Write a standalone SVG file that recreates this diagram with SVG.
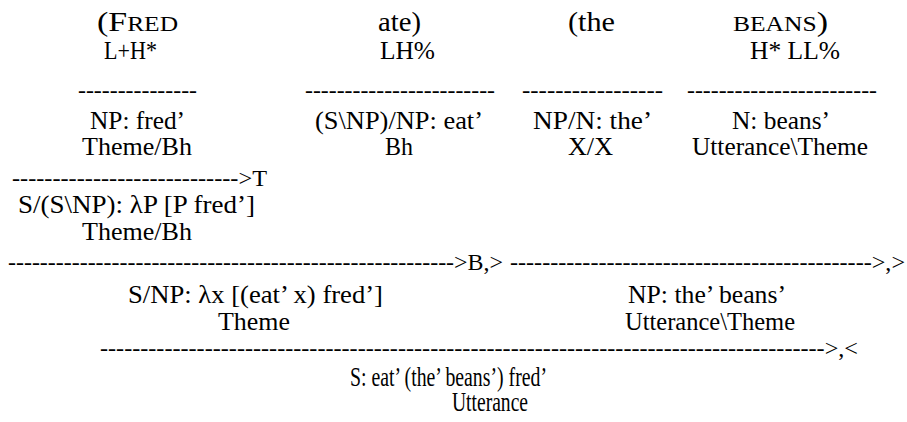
<svg xmlns="http://www.w3.org/2000/svg" width="907" height="422" viewBox="0 0 907 422">
<style>
text{font-family:"Liberation Serif","Times New Roman",serif;fill:#000;font-size:26px}
.w{font-size:28px}
.sc{font-size:21px}
.t{font-size:25px}
.d{font-size:24px}
.n{font-size:27px}
</style>
<rect width="907" height="422" fill="#fff"/>
<g id="words">
<text class="w" x="97" y="31" textLength="81" lengthAdjust="spacingAndGlyphs">(F<tspan class="sc">RED</tspan></text>
<text class="w" x="378" y="31" textLength="43" lengthAdjust="spacingAndGlyphs">ate)</text>
<text class="w" x="568" y="31" textLength="47" lengthAdjust="spacingAndGlyphs">(the</text>
<text class="w" x="733" y="31" textLength="95" lengthAdjust="spacingAndGlyphs"><tspan class="sc">BEANS</tspan>)</text>
</g>
<g id="tones">
<text class="t" x="104" y="59" textLength="53" lengthAdjust="spacingAndGlyphs">L+H*</text>
<text class="t" x="380" y="59" textLength="55" lengthAdjust="spacingAndGlyphs">LH%</text>
<text class="t" x="750" y="59" textLength="90" lengthAdjust="spacingAndGlyphs">H* LL%</text>
</g>
<g id="connectors">
<text class="d" x="78" y="98" textLength="119" lengthAdjust="spacingAndGlyphs">---------------</text>
<text class="d" x="305" y="98" textLength="190" lengthAdjust="spacingAndGlyphs">------------------------</text>
<text class="d" x="522" y="98" textLength="141" lengthAdjust="spacingAndGlyphs">-----------------</text>
<text class="d" x="687" y="98" textLength="190" lengthAdjust="spacingAndGlyphs">------------------------</text>
<text class="d" x="12" y="186" textLength="255" lengthAdjust="spacingAndGlyphs">---------------------------->T</text>
<text class="d" x="8" y="270" textLength="495" lengthAdjust="spacingAndGlyphs">-------------------------------------------------------->B,></text>
<text class="d" x="510" y="270" textLength="395" lengthAdjust="spacingAndGlyphs">--------------------------------------------->,></text>
<text class="d" x="100" y="356" textLength="758" lengthAdjust="spacingAndGlyphs">------------------------------------------------------------------------------------------>,&lt;</text>
</g>
<g id="node-fred">
<text x="90" y="129" textLength="95" lengthAdjust="spacingAndGlyphs">NP: fred’</text>
<text x="82" y="155" textLength="110" lengthAdjust="spacingAndGlyphs">Theme/Bh</text>
</g>
<g id="node-ate">
<text x="315" y="129" textLength="168" lengthAdjust="spacingAndGlyphs">(S\NP)/NP: eat’</text>
<text x="385" y="155" textLength="28" lengthAdjust="spacingAndGlyphs">Bh</text>
</g>
<g id="node-the">
<text x="533" y="129" textLength="119" lengthAdjust="spacingAndGlyphs">NP/N: the’</text>
<text x="568" y="155" textLength="45" lengthAdjust="spacingAndGlyphs">X/X</text>
</g>
<g id="node-beans">
<text x="732" y="129" textLength="98" lengthAdjust="spacingAndGlyphs">N: beans’</text>
<text x="692" y="155" textLength="176" lengthAdjust="spacingAndGlyphs">Utterance\Theme</text>
</g>
<g id="node-typeraise">
<text x="18" y="213" textLength="237" lengthAdjust="spacingAndGlyphs">S/(S\NP): λP [P fred’]</text>
<text x="82" y="240" textLength="110" lengthAdjust="spacingAndGlyphs">Theme/Bh</text>
</g>
<g id="node-theme">
<text x="128" y="303" textLength="255" lengthAdjust="spacingAndGlyphs">S/NP: λx [(eat’ x) fred’]</text>
<text x="218" y="330" textLength="72" lengthAdjust="spacingAndGlyphs">Theme</text>
</g>
<g id="node-np">
<text x="628" y="303" textLength="158" lengthAdjust="spacingAndGlyphs">NP: the’ beans’</text>
<text x="625" y="330" textLength="170" lengthAdjust="spacingAndGlyphs">Utterance\Theme</text>
</g>
<g id="node-s">
<text class="n" x="350" y="386" textLength="197" lengthAdjust="spacingAndGlyphs">S: eat’ (the’ beans’) fred’</text>
<text class="n" x="452" y="411" textLength="76" lengthAdjust="spacingAndGlyphs">Utterance</text>
</g>
</svg>
